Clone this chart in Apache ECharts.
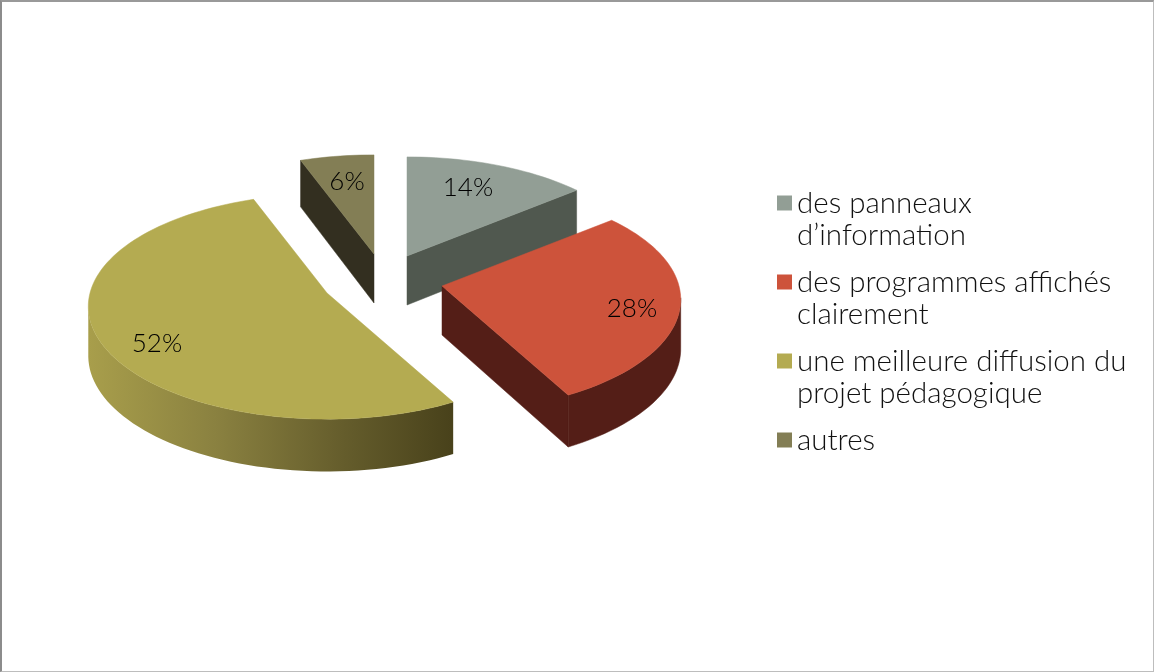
<!DOCTYPE html>
<html><head><meta charset="utf-8">
<style>html,body{margin:0;padding:0;background:#fff}
#frame{position:absolute;left:0;top:0;width:1154px;height:672px;box-sizing:border-box;border-left:2px solid #8c8c8c;border-top:2px solid #999;border-right:1px solid #bdbdbd;border-bottom:1px solid #bdbdbd;pointer-events:none;z-index:2;background:transparent}
#c{position:absolute;left:0;top:0;width:1154px;height:672px}</style>
<script src="https://cdn.jsdelivr.net/npm/echarts@6/dist/echarts.min.js"></script>
</head><body><div id="c"></div><div id="frame"></div>
<script>
const categories = ['des panneaux d’information','des programmes affichés clairement','une meilleure diffusion du projet pédagogique','autres'];
const legendLines = [['des panneaux','d’information'],['des programmes affichés','clairement'],['une meilleure diffusion du','projet pédagogique'],['autres','']];
const values = [14,28.1,52.3,5.6];
const topColors = ['#929e95','#cd533b','#b4ab51','#837e55'];
const wallColors = ['#50584f','#541e17',null,'#332f20'];
const FONT = 'Lato';
const RX = 237, RY = 111, K = 0.12, DEPTH = 49;
// exploded-slice apex and label placement (layout, not data)
const apex = [[407,256],[442,286],[327,293],[374,254]];
const labelAt = [[468,188],[632,309],[157,344],[347,182]];
const drawOrder = [3,0,2,1];
const total = values.reduce((a,b)=>a+b,0);
function startAngle(i){let s=0;for(let j=0;j<i;j++)s+=values[j];return s/total*Math.PI*2;}
function project(c,a,r){const u=Math.sin(a)*r,v=-Math.cos(a)*r,s=1/(1-K*v);return {x:c[0]+RX*u*s,y:c[1]+RY*v*s,d:DEPTH*(1+0.5*(s-1))};}
function poly(points,fill){return {type:'polygon',shape:{points},style:{fill,stroke:typeof fill==='string'?fill:null,lineWidth:typeof fill==='string'?0.5:0}};}
function renderSlice(i,api){
  const c=apex[i],a0=startAngle(i),a1=a0+api.value(0)/total*Math.PI*2,n=Math.ceil((a1-a0)/(Math.PI/90));
  const rim=[];for(let k=0;k<=n;k++)rim.push(project(c,a0+(a1-a0)*k/n,1));
  const ctr=project(c,0,0),children=[];
  const wallFill=wallColors[i]||{type:'linear',global:true,x:89,y:0,x2:451,y2:0,colorStops:[{offset:0,color:'#a89e4b'},{offset:0.35,color:'#8a8140'},{offset:0.7,color:'#655d2c'},{offset:1,color:'#49421b'}]};
  const quad=(pts)=>{const top=pts.map(p=>[p.x,p.y]),bot=pts.map(p=>[p.x,p.y+p.d]).reverse();children.push(poly(top.concat(bot),wallFill));};
  if(rim[0].x<ctr.x-0.5)quad([ctr,rim[0]]);
  if(rim[n].x>ctr.x+0.5)quad([rim[n],ctr]);
  let run=[];
  for(let k=0;k<n;k++){if(rim[k+1].x<rim[k].x){if(!run.length)run.push(rim[k]);run.push(rim[k+1]);}else if(run.length){quad(run);run=[];}}
  if(run.length)quad(run);
  children.push(poly([[ctr.x,ctr.y]].concat(rim.map(p=>[p.x,p.y])),topColors[i]));
  children.push({type:'text',style:{text:Math.round(api.value(0))+'%',x:labelAt[i][0],y:labelAt[i][1],align:'center',verticalAlign:'middle',fontSize:26,fontWeight:300,fontFamily:FONT,fill:'#000'}});
  return {type:'group',children};
}
const chart=echarts.init(document.getElementById('c'),null,{renderer:'canvas'});
chart.setOption({
  animation:false,backgroundColor:'#fff',
  legend:{orient:'vertical',left:772,top:150,itemWidth:15,itemHeight:15,itemGap:-17,icon:'rect',selectedMode:false,
    data:categories,
    formatter:n=>{const l=legendLines[categories.indexOf(n)];return '\n'+l[0]+'\n'+(l[1]||' ');},
    textStyle:{fontSize:29.5,fontWeight:300,lineHeight:32,fontFamily:FONT,color:'#111'}},
  series:drawOrder.map(i=>({type:'custom',name:categories[i],coordinateSystem:'none',itemStyle:{color:topColors[i]},silent:true,
    data:[[values[i]]],renderItem:(p,api)=>renderSlice(i,api)}))
});
</script></body></html>
